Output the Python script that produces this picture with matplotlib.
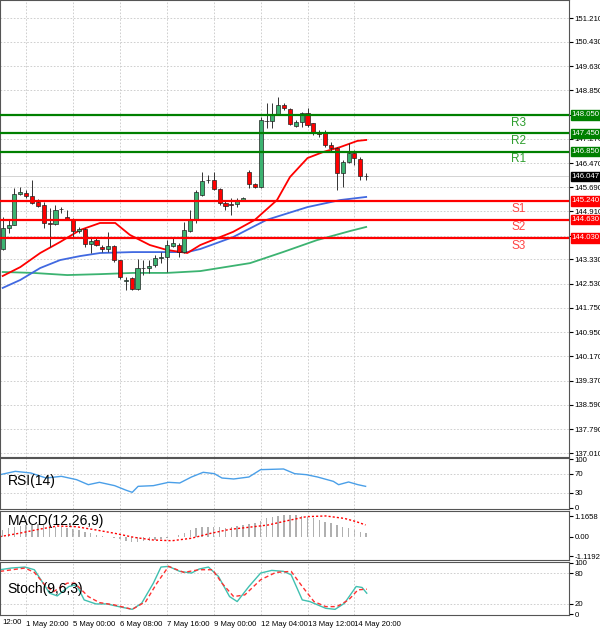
import numpy as np
import matplotlib
matplotlib.use("Agg")
import matplotlib.pyplot as plt
import matplotlib.transforms as mtransforms

plt.rcParams["font.family"] = "Liberation Sans"

# ---- candles (4h) ----
opens = [143.67,144.36,144.45,145.47,145.50,145.40,145.20,145.11,144.52,144.49,
         144.98,144.71,144.65,144.26,144.32,143.83,143.96,143.74,143.67,143.77,
         143.31,142.63,142.72,142.36,143.05,143.05,143.15,143.38,143.41,143.77,
         143.80,143.57,144.26,144.62,145.43,145.92,145.92,145.63,145.17,145.14,
         145.14,145.27,146.18,145.79,145.69,147.85,147.85,148.05,148.37,148.24,
         147.69,147.82,148.11,147.78,147.49,147.49,147.07,146.97,146.15,146.51,
         146.80,146.61,146.05]
highs = [144.72,144.62,145.66,145.69,145.60,145.92,145.30,145.20,145.01,145.11,
         145.04,144.94,144.68,144.39,144.36,144.03,144.03,143.80,144.23,143.80,
         143.31,142.76,142.76,143.34,143.31,143.31,143.47,143.57,143.96,144.03,
         143.87,144.55,144.94,145.60,146.18,146.09,146.18,145.66,145.24,145.34,
         145.34,145.37,146.25,145.82,147.98,148.44,148.44,148.63,148.44,148.27,
         147.88,148.14,148.27,147.78,147.56,147.56,147.16,147.00,146.58,147.13,
         146.90,146.67,146.15]
lows = [143.64,144.19,144.45,145.43,145.34,145.14,145.04,144.36,143.74,144.45,
        144.85,144.62,144.06,144.19,143.74,143.54,143.77,143.57,143.57,143.25,
        142.69,142.33,142.33,142.33,142.82,142.89,143.08,143.21,142.92,143.74,
        143.41,143.54,144.23,144.52,145.40,145.82,145.60,145.11,144.94,144.78,
        145.04,145.24,145.66,145.66,145.66,147.62,147.62,148.05,148.21,147.72,
        147.65,147.65,147.65,147.39,147.33,147.00,146.87,145.60,145.69,146.48,
        146.41,145.92,145.92]
closes = [144.36,144.45,145.47,145.53,145.40,145.17,145.07,144.52,144.50,144.94,
          144.97,144.65,144.26,144.32,143.83,143.93,143.80,143.67,143.77,143.31,
          142.76,142.66,142.36,143.05,143.04,143.11,143.38,143.41,143.80,143.87,
          143.57,144.29,144.62,145.53,145.89,145.91,145.63,145.17,145.07,145.12,
          145.24,145.34,145.79,145.69,147.88,147.84,148.05,148.37,148.27,147.75,
          147.82,148.11,147.72,147.46,147.42,147.07,146.97,146.15,146.51,146.80,
          146.64,146.05,146.047]
last_price = 146.047

# ---- moving averages (candle index, price) ----
ma_red_idx = [0,3,6.4,9.8,13.2,16.6,19.2,21.7,25.1,28,31.5,33.7,39.3,43,46.8,49,52,54.7,57.6,60.5,62]
ma_red_val = [142.79,143.08,143.54,143.90,144.29,144.52,144.52,144.13,143.80,143.64,143.54,
              143.80,144.23,144.62,145.27,146.02,146.64,146.84,147.00,147.20,147.23]
ma_blue_idx = [0,3,6.4,9.8,13.2,16.6,22.2,28,31.5,33.7,39.3,45,52,57.6,62]
ma_blue_val = [142.40,142.66,143.05,143.31,143.44,143.54,143.57,143.57,143.57,143.67,
               144.06,144.62,145.04,145.27,145.37]
ma_green_idx = [0,5.2,11,16.6,22.2,28,33.7,42.2,47.8,53.6,59.3,62]
ma_green_val = [142.92,142.89,142.82,142.85,142.89,142.89,142.95,143.21,143.57,143.96,144.26,144.39]

# ---- pivot levels ----
level_names = ["R3", "R2", "R1", "S1", "S2", "S3"]
level_values = [148.05, 147.45, 146.85, 145.24, 144.63, 144.03]

price_ticks = [151.21,150.43,149.63,148.85,148.05,147.27,146.47,145.69,144.91,144.11,
               143.33,142.53,141.75,140.95,140.17,139.37,138.59,137.79,137.01]

# ---- indicators ----
rsi_idx = [-0.46,2.15,4.8,7.4,10,12.6,14.6,16.5,19.1,21.1,22.1,23.1,25.7,28.3,30.2,32.2,
           34.2,36.1,37.4,39.4,42,44,47.9,49.8,51.8,53.7,56.4,57.3,59,60.6,61.9]
rsi_val = [67.9,74.8,71.4,61,64.5,57.6,47.2,52.1,45.2,35.5,31.4,43.8,45.2,52.1,50.7,63.1,
           72.8,70,61,59,63.1,78.3,79.7,70,67.9,63.1,54.1,47.2,52.8,47.2,43.8]

macd_hist = [0.38,0.47,0.53,0.60,0.66,0.66,0.71,0.66,0.60,0.56,0.53,0.47,0.41,0.38,0.28,0.19,
             0.09,0.04,-0.04,-0.09,-0.15,-0.23,-0.28,-0.28,-0.24,-0.23,-0.19,-0.15,-0.09,
             -0.04,0.09,0.23,0.38,0.47,0.53,0.56,0.53,0.53,0.51,0.56,0.60,0.66,0.71,0.79,0.90,
             1.03,1.13,1.18,1.22,1.22,1.20,1.17,1.13,1.03,0.94,0.85,0.75,0.66,0.56,0.47,0.38,
             0.28,0.19]
macd_sig_idx = [-0.5,2.8,6.1,9.3,12.6,15.9,19.1,22.4,25.7,28.9,32.2,35.5,38.7,42,45.3,48.5,
                51.8,55.1,58.3,60.3,61.9]
macd_sig_val = [0,0.19,0.41,0.6,0.56,0.38,0.19,-0.04,-0.19,-0.23,-0.09,0.19,0.41,0.53,0.66,
                0.9,1.13,1.17,1.03,0.85,0.66]

stoch_k_idx = [-0.46,1.5,3.8,5.4,6.7,8.0,9.3,11.3,12.6,13.9,15.9,17.8,19.8,22.1,23.7,25.7,27.0,
               28.3,30.2,32.2,33.5,35.1,36.8,38.7,40.0,42.0,44.0,45.9,47.9,49.2,51.1,52.4,
               55.1,56.7,58.3,60.3,61.3,62.1]
stoch_k_val = [86.5,89.8,91.7,86.5,63.7,40.9,35.6,53.9,57.2,27.8,20,20,14.8,9.5,21.3,60.4,91.7,
               93,83.3,80,87.8,91.7,73.5,34.3,24.6,53.9,80,85.2,83.3,76.7,27.8,24.6,11.5,9.5,
               21.3,53.9,52,40.9]
stoch_d_idx = [-0.46,3.8,5.4,7.4,8.7,11.0,12.3,14.6,16.5,19.1,22.1,24.4,26.3,28.3,30.9,33.5,
               35.8,37.4,39.4,41.3,44.0,46.6,49.2,51.1,53.1,55.1,57.0,59.0,60.6,62.1]
stoch_d_val = [83.3,89.8,81.3,53.9,44.1,60.4,60.4,34.3,22.6,18,9.5,24.6,60.4,93,81.3,86.5,
               86.5,60.4,34.3,37.6,67,81.3,83.3,53.9,24.6,14.8,14.8,27.8,47.4,48.7]

time_ticks = [4, 12, 20, 28, 36, 44, 52, 60]
time_labels = ["1 May 20:00", "5 May 00:00", "6 May 08:00", "7 May 16:00",
               "9 May 00:00", "12 May 04:00", "13 May 12:00", "14 May 20:00"]

W, H = 600, 632
fig = plt.figure(figsize=(W / 100, H / 100), dpi=100)

def pax(top, bottom, right=569):
    return fig.add_axes([0, 1 - bottom / H, right / W, (bottom - top) / H])

X0, X1 = -0.46, 96.6
GRID = dict(color="#c8c8c8", linestyle=(0, (2, 2)), linewidth=0.6)
TXT = 5.6

ax = pax(0, 457)
ax_rsi = pax(458, 509)
ax_macd = pax(511, 560)
ax_st = pax(562, 615)
for a in (ax, ax_rsi, ax_macd, ax_st):
    a.yaxis.tick_right()
    a.tick_params(axis="y", labelsize=TXT, length=3, pad=1, colors="black")
    a.tick_params(axis="x", length=0)
    a.set_xticks(time_ticks)
    a.set_xticklabels([])
    a.set_xlim(X0, X1)
    for s in a.spines.values():
        s.set_color("#555555")
        s.set_linewidth(0.8)
    a.grid(True, axis="x", **GRID)

# main price panel
ax.set_yticks(price_ticks)
ax.set_yticklabels(["%.3f" % v for v in price_ticks])
ax.set_ylim(136.88, 151.80)
for v in price_ticks:
    ax.axhline(v, zorder=0, **GRID)

idx = np.arange(len(opens))
ax.vlines(idx, lows, highs, color="#333333", linewidth=0.7, zorder=3)
bot = np.minimum(opens, closes)
hgt = np.maximum(np.abs(np.array(closes) - np.array(opens)), 0.02)
cols = ["#3cb371" if c >= o else "#ff0000" for o, c in zip(opens, closes)]
ax.bar(idx, hgt, bottom=bot, width=0.7, color=cols, edgecolor="#222222", linewidth=0.5, zorder=4)

ax.plot(ma_green_idx, ma_green_val, color="#3cb371", linewidth=1.3, zorder=2)
ax.plot(ma_blue_idx, ma_blue_val, color="#4169e1", linewidth=1.3, zorder=2)
ax.plot(ma_red_idx, ma_red_val, color="#ff0000", linewidth=1.3, zorder=2)

tr = mtransforms.blended_transform_factory(ax.transAxes, ax.transData)
for name, v in zip(level_names, level_values):
    is_r = name.startswith("R")
    lc = "#008000" if is_r else "#ff0000"
    ax.axhline(v, color=lc, linewidth=1.6, zorder=5)
    ax.text(88, v - 0.25, name, color="#2e9e2e" if is_r else "#ff4444",
            fontsize=8.5, ha="center", va="center", zorder=6)
    ax.text(1.005, v, "%.3f" % v, transform=tr, fontsize=TXT, color="white",
            ha="left", va="center", clip_on=False, zorder=10,
            bbox=dict(boxstyle="square,pad=0.15", fc=lc, ec=lc))
ax.axhline(last_price, color="#cccccc", linewidth=0.6, zorder=1)
ax.text(1.005, last_price, "%.3f" % last_price, transform=tr, fontsize=TXT, color="white",
        ha="left", va="center", clip_on=False, zorder=10,
        bbox=dict(boxstyle="square,pad=0.15", fc="black", ec="black"))

# RSI
ax_rsi.set_yticks([0, 30, 70, 100])
ax_rsi.set_ylim(-3.1, 102.4)
for v in (30, 70):
    ax_rsi.axhline(v, **GRID)
ax_rsi.plot(rsi_idx, rsi_val, color="#4a9fe8", linewidth=1)
ax_rsi.text(0.8, 55, "RSI(14)", fontsize=10, va="center")

# MACD
ax_macd.set_yticks([-1.1192, 0, 1.1658])
ax_macd.set_yticklabels(["-1.1192", "0.00", "1.1658"])
ax_macd.set_ylim(-1.32, 1.45)
ax_macd.bar(np.arange(len(macd_hist)), macd_hist, width=0.25, color="#b0b0b0")
ax_macd.plot(macd_sig_idx, macd_sig_val, color="#ff0000", linewidth=1, linestyle=(0, (1.5, 1.5)))
ax_macd.text(0.8, 0.9, "MACD(12,26,9)", fontsize=10, va="center")

# Stochastic
ax_st.set_yticks([0, 20, 80, 100])
ax_st.set_ylim(-1.5, 101.5)
for v in (20, 80):
    ax_st.axhline(v, **GRID)
ax_st.plot(stoch_k_idx, stoch_k_val, color="#40c0b0", linewidth=1)
ax_st.plot(stoch_d_idx, stoch_d_val, color="#ff3030", linewidth=1, linestyle=(0, (3, 2)))
ax_st.text(0.8, 50, "Stoch(9,6,3)", fontsize=10, va="center")
ax_st.set_xticklabels(time_labels, fontsize=TXT)
for lab in ax_st.get_xticklabels():
    lab.set_horizontalalignment("left")
ax_st.tick_params(axis="x", pad=4)
fig.text(2 / W, 1 - 623 / H, "12:00", fontsize=TXT, va="center")

fig.savefig("out.png", dpi=100)
